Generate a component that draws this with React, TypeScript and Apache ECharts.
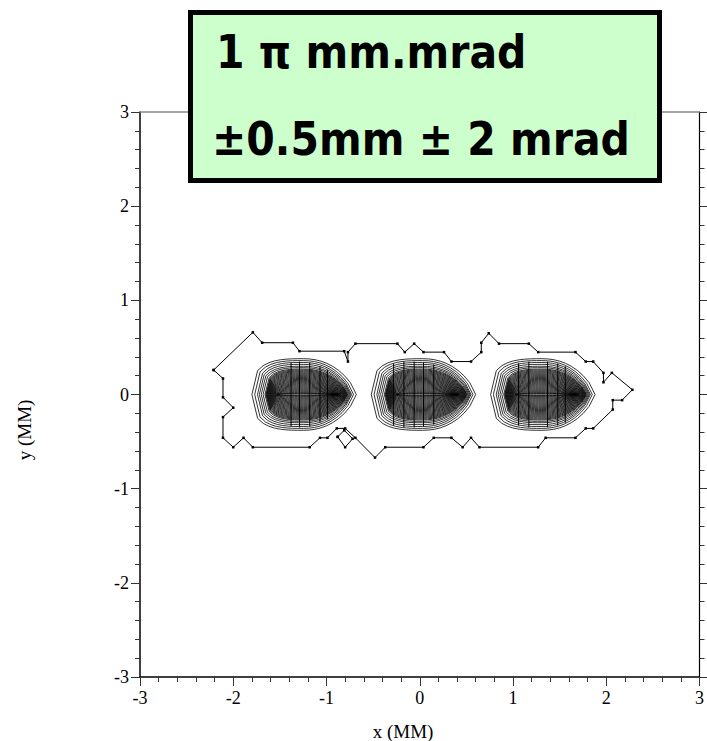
import React, { useEffect, useRef } from "react";
import * as echarts from "echarts";

// ---- data ----
const xRange = [-3, 3];
const yRange = [-3, 3];

// outermost contour (x, y in MM)
const outerContour: [number, number][] = [
  [-2.21, 0.26], [-1.79, 0.66], [-1.69, 0.55], [-1.36, 0.55], [-1.29, 0.46],
  [-0.81, 0.46], [-0.77, 0.35], [-0.77, 0.45], [-0.69, 0.54], [-0.24, 0.54],
  [-0.16, 0.45], [-0.06, 0.54], [0.04, 0.45], [0.26, 0.45], [0.34, 0.35],
  [0.55, 0.35], [0.66, 0.45], [0.66, 0.55], [0.74, 0.65], [0.85, 0.54],
  [1.17, 0.54], [1.27, 0.45], [1.67, 0.45], [1.78, 0.35], [1.86, 0.35],
  [1.97, 0.23], [1.97, 0.13], [2.06, 0.23], [2.28, 0.05], [2.17, -0.06],
  [2.07, -0.06], [2.07, -0.16], [1.86, -0.36], [1.78, -0.36], [1.67, -0.46],
  [1.35, -0.46], [1.27, -0.56], [0.64, -0.56], [0.55, -0.46], [0.46, -0.56],
  [0.34, -0.46], [0.15, -0.46], [0.04, -0.56], [-0.37, -0.56], [-0.48, -0.67],
  [-0.69, -0.46], [-0.8, -0.36], [-0.89, -0.36], [-0.99, -0.46], [-1.07, -0.46],
  [-1.18, -0.56], [-1.79, -0.56], [-1.89, -0.46], [-2.0, -0.56], [-2.11, -0.46],
  [-2.11, -0.24], [-2.0, -0.14], [-2.11, -0.03], [-2.11, 0.17], [-2.21, 0.26],
];

// small closed contour below the envelope
const islandContour: [number, number][] = [
  [-0.88, -0.45], [-0.81, -0.38], [-0.72, -0.47], [-0.8, -0.56], [-0.88, -0.45],
];

// three beam spots: centres of the outer ring
const spotCentreX = [-1.25, 0.03, 1.31];
const spotCentreY = [0, 0, 0];

// nested contour levels (outer -> inner): extent left / right of centre, half height
const levelLeft = [
  0.55, 0.52, 0.49, 0.47, 0.45, 0.43,
  0.41, 0.40, 0.395, 0.39, 0.385, 0.38, 0.375, 0.37, 0.365, 0.36, 0.355, 0.35, 0.345,
  0.34, 0.335, 0.33, 0.325, 0.32, 0.315, 0.31, 0.305, 0.30, 0.295, 0.29, 0.285, 0.28, 0.275, 0.27,
];
const levelRight = [
  0.57, 0.54, 0.52, 0.51, 0.50, 0.49,
  0.48, 0.475, 0.47, 0.465, 0.46, 0.455, 0.45, 0.445, 0.44, 0.435, 0.43, 0.425, 0.42,
  0.415, 0.41, 0.405, 0.40, 0.395, 0.39, 0.385, 0.38, 0.375, 0.37, 0.365, 0.36, 0.355, 0.35, 0.34,
];
const levelHalfHeight = [
  0.38, 0.36, 0.34, 0.32, 0.30, 0.285,
  0.27, 0.26, 0.25, 0.24, 0.23, 0.22, 0.21, 0.20, 0.19, 0.18, 0.17, 0.16, 0.15,
  0.14, 0.13, 0.12, 0.11, 0.10, 0.09, 0.08, 0.07, 0.06, 0.05, 0.04, 0.03, 0.02, 0.012, 0.006,
];

// straight vertical contour segments crossing each spot
const gridSegX = [
  -1.38, -1.29, -1.18, -1.07, -0.99,
  -0.28, -0.17, -0.06, 0.04, 0.15,
  1.06, 1.17, 1.37, 1.48, 1.56,
];
const gridSegHalf = [
  0.34, 0.35, 0.34, 0.3, 0.26,
  0.33, 0.35, 0.35, 0.34, 0.32,
  0.33, 0.35, 0.35, 0.33, 0.3,
];

const boxLines = ["1 π mm.mrad", "±0.5mm ± 2 mrad"];
const xTitle = "x (MM)";
const yTitle = "y (MM)";

export default function App() {
  const ref = useRef<HTMLDivElement>(null);
  useEffect(() => {
    if (!ref.current) return;
    const chart = echarts.init(ref.current, null, { renderer: "svg" });

    const spotData: number[][] = [];
    spotCentreX.forEach((_, b) => {
      levelLeft.forEach((__, i) => spotData.push([b, i]));
    });
    const segData = gridSegX.map((x, i) => [x, gridSegHalf[i]]);

    const serif = "Liberation Serif";
    const tickStyle = { color: "#333", width: 1 };

    const option: any = {
      animation: false,
      grid: { left: 140, right: 2, top: 112, bottom: 64 },
      xAxis: [
        {
          type: "value", min: xRange[0], max: xRange[1], interval: 1, position: "bottom",
          axisLine: { show: true, onZero: false, lineStyle: { color: "#000", width: 1.5 } },
          axisTick: { show: true, length: 9, lineStyle: tickStyle },
          minorTick: { show: true, splitNumber: 5, length: 5, lineStyle: tickStyle },
          axisLabel: { fontFamily: serif, fontSize: 18, color: "#000", margin: 12 },
          splitLine: { show: false },
        },
        {
          type: "value", min: xRange[0], max: xRange[1], interval: 1, position: "top",
          axisLine: { show: true, onZero: false, lineStyle: { color: "#888", width: 1.5 } },
          axisTick: { show: false }, axisLabel: { show: false }, splitLine: { show: false },
        },
      ],
      yAxis: [
        {
          type: "value", min: yRange[0], max: yRange[1], interval: 1, position: "left",
          axisLine: { show: true, onZero: false, lineStyle: { color: "#000", width: 1.5 } },
          axisTick: { show: true, length: 9, lineStyle: tickStyle },
          minorTick: { show: true, splitNumber: 5, length: 5, lineStyle: tickStyle },
          axisLabel: { fontFamily: serif, fontSize: 18, color: "#000", margin: 11 },
          splitLine: { show: false },
        },
        {
          type: "value", min: yRange[0], max: yRange[1], interval: 1, position: "right",
          axisLine: { show: true, onZero: false, lineStyle: { color: "#000", width: 1.2 } },
          axisTick: { show: true, length: 8, lineStyle: tickStyle },
          minorTick: { show: true, splitNumber: 5, length: 5, lineStyle: tickStyle },
          axisLabel: { show: false }, splitLine: { show: false },
        },
      ],
      series: [
        {
          type: "custom",
          xAxisIndex: 0, yAxisIndex: 0,
          data: spotData,
          renderItem: (params: any, api: any) => {
            const b = api.value(0);
            const i = api.value(1);
            const cx = spotCentreX[b];
            const cy = spotCentreY[b];
            const l = levelLeft[i];
            const r = levelRight[i];
            const h = levelHalfHeight[i];
            const n = 9;
            const top: number[][] = [];
            const bottom: number[][] = [];
            for (let k = 0; k <= n; k++) {
              const u = 1 - k / n;
              const f = Math.pow(1 - Math.pow(u, 2.2), 0.75);
              top.push([cx + r * u, cy + h * f]);
              bottom.push([cx + r * u, cy - h * f]);
            }
            for (let k = 1; k <= n; k++) {
              const u = k / n;
              const g = Math.pow(1 - Math.pow(u, 3), 1 / 3);
              top.push([cx - l * u, cy + h * g]);
              bottom.push([cx - l * u, cy - h * g]);
            }
            const ring = top.concat(bottom.slice(1, -1).reverse());
            return {
              type: "polygon",
              shape: { points: ring.map((p) => api.coord(p)) },
              style: { fill: "none", stroke: "#000", lineWidth: 0.8 },
            };
          },
          z: 2,
        },
        {
          type: "custom",
          xAxisIndex: 0, yAxisIndex: 0,
          data: segData,
          renderItem: (params: any, api: any) => {
            const x = api.value(0);
            const h = api.value(1);
            const p1 = api.coord([x, h]);
            const p2 = api.coord([x, -h]);
            return {
              type: "line",
              shape: { x1: p1[0], y1: p1[1], x2: p2[0], y2: p2[1] },
              style: { stroke: "#000", lineWidth: 1 },
            };
          },
          z: 2,
        },
        {
          type: "line",
          data: outerContour,
          symbol: "rect",
          symbolSize: 2.5,
          showSymbol: true,
          itemStyle: { color: "#000" },
          lineStyle: { color: "#000", width: 1 },
          z: 3,
        },
        {
          type: "line",
          data: islandContour,
          symbol: "rect",
          symbolSize: 2.5,
          itemStyle: { color: "#000" },
          lineStyle: { color: "#000", width: 1 },
          z: 3,
        },
      ],
      graphic: [
        {
          type: "rect",
          shape: { x: 190.5, y: 12.5, width: 469, height: 168 },
          style: { fill: "#ccffcc", stroke: "#000", lineWidth: 5 },
          z: 10,
        },
        {
          type: "text",
          x: 216, y: 52,
          scaleY: 1.12,
          style: {
            text: boxLines[0], fill: "#000",
            fontFamily: "DejaVu Sans", fontWeight: "bold", fontSize: 41,
            align: "left", verticalAlign: "middle",
          },
          z: 11,
        },
        {
          type: "text",
          x: 212, y: 139,
          scaleY: 1.12,
          style: {
            text: boxLines[1], fill: "#000",
            fontFamily: "DejaVu Sans", fontWeight: "bold", fontSize: 41,
            align: "left", verticalAlign: "middle",
          },
          z: 11,
        },
        {
          type: "text",
          x: 403, y: 731,
          style: {
            text: xTitle, fill: "#000", fontFamily: serif, fontSize: 19,
            align: "center", verticalAlign: "middle",
          },
        },
        {
          type: "text",
          x: 24, y: 430,
          rotation: Math.PI / 2,
          style: {
            text: yTitle, fill: "#000", fontFamily: serif, fontSize: 19,
            align: "center", verticalAlign: "middle",
          },
        },
      ],
    };
    chart.setOption(option);
    return () => chart.dispose();
  }, []);

  return (
    <div
      ref={ref}
      style={{ position: "fixed", left: 0, top: 0, width: 707, height: 741, background: "#fff" }}
    />
  );
}
